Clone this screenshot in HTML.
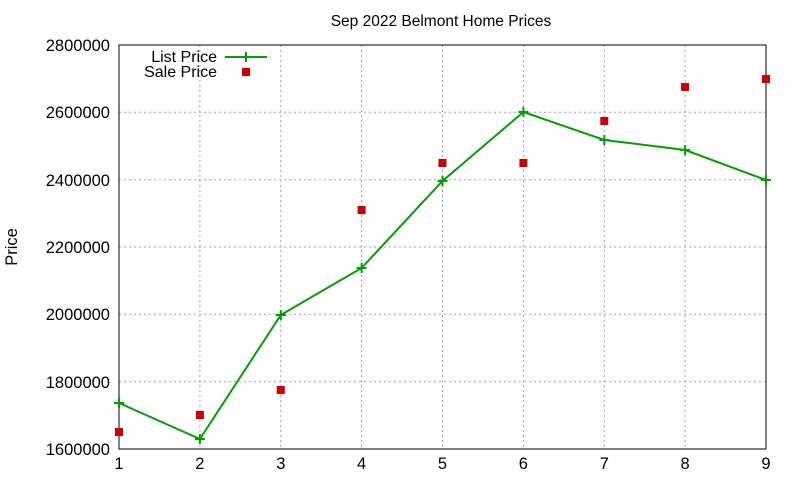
<!DOCTYPE html>
<html><head><style>body{margin:0;background:#fff}svg{display:block}</style></head><body>
<svg width="800" height="480" xmlns="http://www.w3.org/2000/svg" font-family="Liberation Sans, sans-serif">
<rect width="800" height="480" fill="#fff"/>
<g stroke="#a0a0a0" stroke-width="1" stroke-dasharray="2,3">
<line x1="119" y1="381.7" x2="766" y2="381.7"/><line x1="119" y1="314.3" x2="766" y2="314.3"/><line x1="119" y1="247" x2="766" y2="247"/><line x1="119" y1="179.7" x2="766" y2="179.7"/><line x1="119" y1="112.3" x2="766" y2="112.3"/>
<line x1="199.9" y1="45" x2="199.9" y2="449"/><line x1="280.8" y1="45" x2="280.8" y2="449"/><line x1="361.6" y1="45" x2="361.6" y2="449"/><line x1="442.5" y1="45" x2="442.5" y2="449"/><line x1="523.4" y1="45" x2="523.4" y2="449"/><line x1="604.3" y1="45" x2="604.3" y2="449"/><line x1="685.1" y1="45" x2="685.1" y2="449"/>
</g>
<rect x="119" y="45" width="647" height="404" fill="none" stroke="#000" stroke-width="1"/>
<g font-size="16.5" text-anchor="end" fill="#000">
<text x="110" y="455">1600000</text><text x="110" y="388">1800000</text><text x="110" y="320">2000000</text><text x="110" y="253">2200000</text><text x="110" y="186">2400000</text><text x="110" y="118">2600000</text><text x="110" y="51">2800000</text>
</g>
<g font-size="16.5" text-anchor="middle">
<text x="119" y="469">1</text><text x="199.9" y="469">2</text><text x="280.8" y="469">3</text><text x="361.6" y="469">4</text><text x="442.5" y="469">5</text><text x="523.4" y="469">6</text><text x="604.3" y="469">7</text><text x="685.1" y="469">8</text><text x="766" y="469">9</text>
<text x="441" y="26" font-size="15.5">Sep 2022 Belmont Home Prices</text>
<text x="17" y="247" transform="rotate(-90 17 247)">Price</text>
</g>
<g font-size="16" text-anchor="end"><text x="217" y="62">List Price</text><text x="217" y="77">Sale Price</text></g>
<line x1="225" y1="57" x2="267" y2="57" stroke="#00a000" stroke-width="2"/>
<path d="M246 52v10M241 57h10" stroke="#00a000" stroke-width="2"/>
<rect x="242" y="68" width="8" height="8" fill="#cc0000"/>
<polyline fill="none" stroke="#00a000" stroke-width="2" points="119,403 199.9,439 280.8,315 361.6,268 442.5,181 523.4,112 604.3,140 685.1,150 766,180"/>
<g stroke="#00a000" stroke-width="2">
<path d="M119 398v10M114 403h10M199.9 434v10M194.9 439h10M280.8 310v10M275.8 315h10M361.6 263v10M356.6 268h10M442.5 176v10M437.5 181h10M523.4 107v10M518.4 112h10M604.3 135v10M599.3 140h10M685.1 145v10M680.1 150h10M766 175v10M761 180h10"/>
</g>
<g fill="#cc0000">
<rect x="115" y="428" width="8" height="8"/><rect x="195.9" y="411" width="8" height="8"/><rect x="276.8" y="386" width="8" height="8"/><rect x="357.6" y="206" width="8" height="8"/><rect x="438.5" y="159" width="8" height="8"/><rect x="519.4" y="159" width="8" height="8"/><rect x="600.3" y="117" width="8" height="8"/><rect x="681.1" y="83" width="8" height="8"/><rect x="762" y="75" width="8" height="8"/>
</g>
</svg>
</body></html>
